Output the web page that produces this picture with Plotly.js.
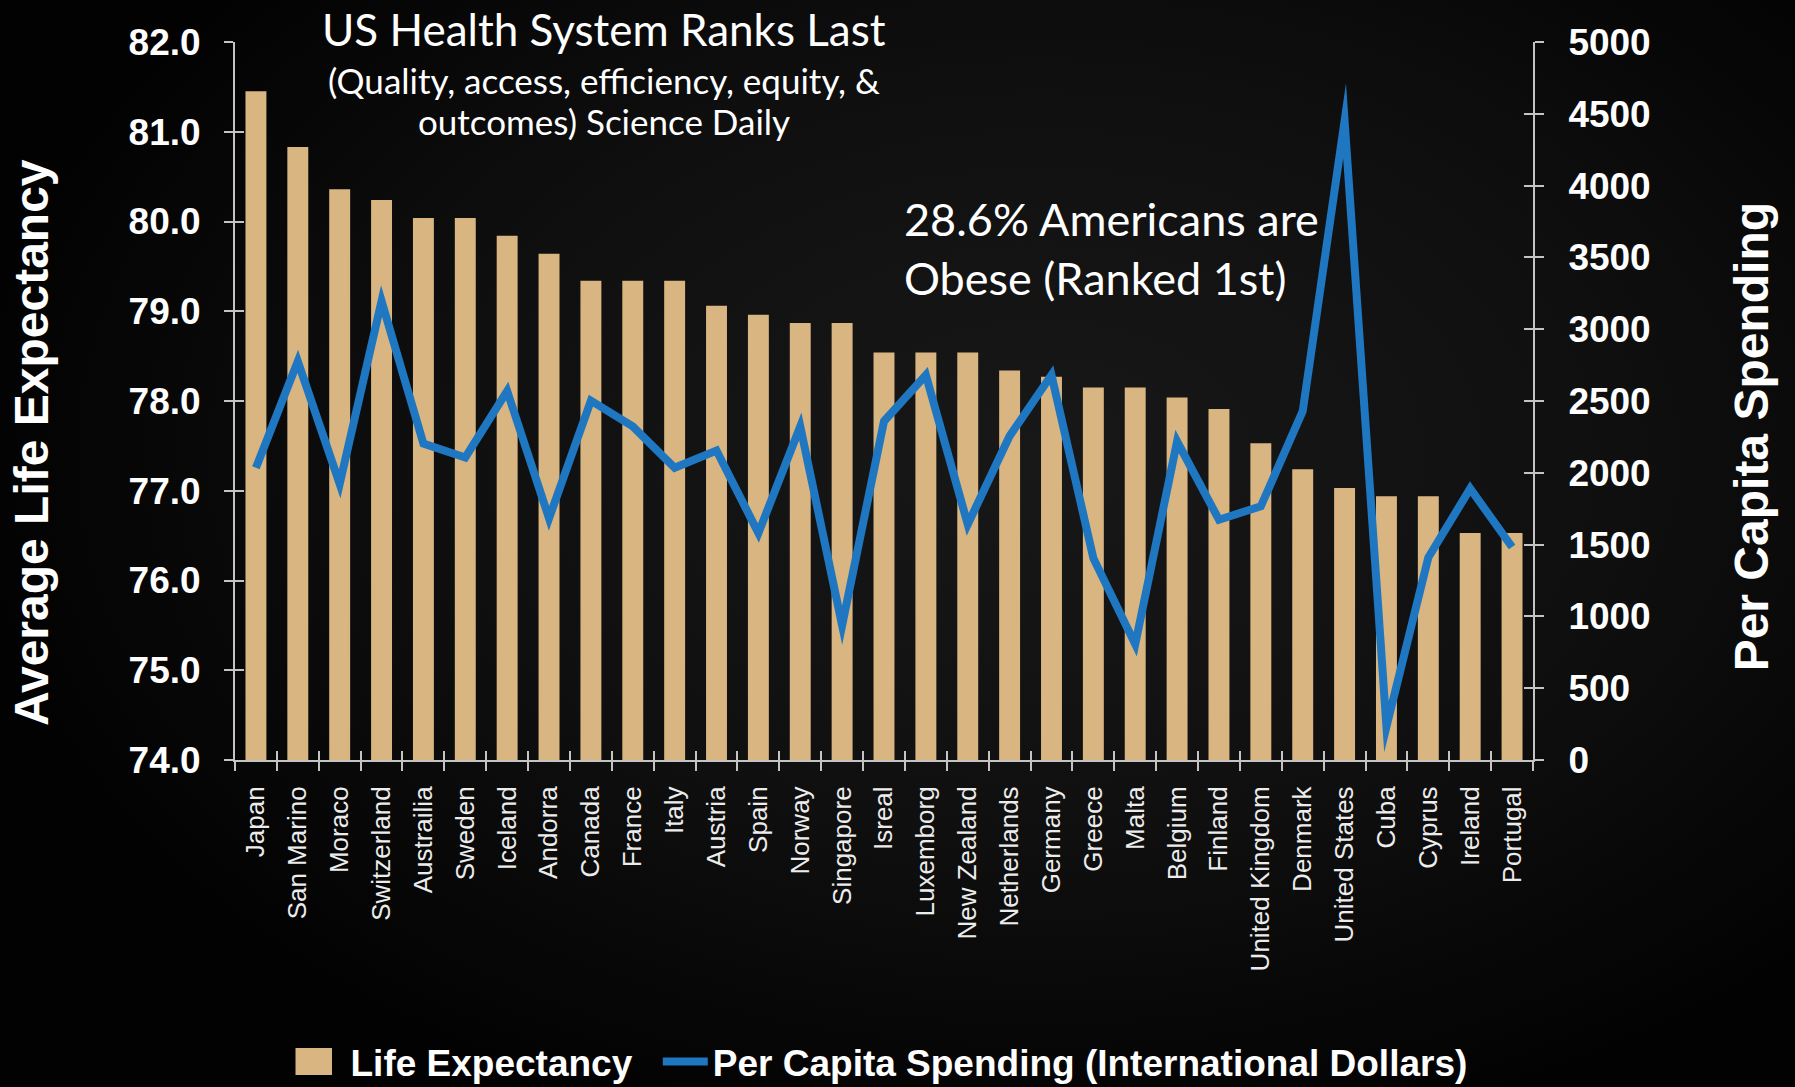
<!DOCTYPE html>
<html>
<head>
<meta charset="utf-8">
<script src="https://cdn.plot.ly/plotly-3.0.1.min.js"></script>
<style>
  html, body { margin: 0; padding: 0; background: #000; }
  #chart { width: 1795px; height: 1087px;
    background: radial-gradient(ellipse 60% 65% at 58% 42%, #181818 0%, #0f0f0f 55%, #020202 100%); }
  #chart path.js-line { stroke-linejoin: miter !important; stroke-miterlimit: 40 !important; }
  #chart .legendpoints path[d="M6,6H-6V-6H6Z"],
  #chart .legendpoints path.legendbar { d: path("M9,13.5H-29V-13.5H9Z") !important; }
</style>
</head>
<body>
<div id="chart"></div>
<script>
const countries = ["Japan","San Marino","Moraco","Switzerland","Austrailia","Sweden","Iceland","Andorra","Canada","France","Italy","Austria","Spain","Norway","Singapore","Isreal","Luxemborg","New Zealand","Netherlands","Germany","Greece","Malta","Belgium","Finland","United Kingdom","Denmark","United States","Cuba","Cyprus","Ireland","Portugal"];
const lifeExpectancy = [81.45,80.83,80.36,80.24,80.04,80.04,79.84,79.64,79.34,79.34,79.34,79.06,78.96,78.87,78.87,78.54,78.54,78.54,78.34,78.27,78.15,78.15,78.04,77.91,77.53,77.24,77.03,76.94,76.94,76.53,76.53];
const perCapitaSpending = [2035,2776,1923,3196,2203,2107,2570,1683,2502,2323,2035,2155,1580,2323,938,2359,2680,1641,2256,2681,1405,806,2218,1673,1767,2429,4450,232,1410,1890,1483];
const lifeTicks = [74,75,76,77,78,79,80,81,82];
const spendTicks = [0,500,1000,1500,2000,2500,3000,3500,4000,4500,5000];

const barColor = "#D8B581";
const lineColor = "#1E77C0";
const axisGray = "#c4c4c4";
const sans = "Liberation Sans, Arial, Helvetica, sans-serif";
const humanist = "Lato, Open Sans, sans-serif";

const traces = [
  { type: "bar", x: countries, y: lifeExpectancy, name: "Life Expectancy\u00A0\u00A0",
    marker: { color: barColor, line: { width: 0 } }, xaxis: "x", yaxis: "y", hoverinfo: "x+y" },
  { type: "scatter", mode: "lines", x: countries, y: perCapitaSpending,
    name: "Per Capita Spending (International Dollars)",
    line: { color: lineColor, width: 8 }, xaxis: "x2", yaxis: "y2" },
  // invisible helpers so the inner halves of the crossing tick marks are drawn
  { type: "scatter", mode: "lines", x: countries, y: lifeExpectancy, opacity: 0,
    showlegend: false, hoverinfo: "skip", xaxis: "x", yaxis: "y3" },
  { type: "scatter", mode: "lines", x: countries, y: perCapitaSpending, opacity: 0,
    showlegend: false, hoverinfo: "skip", xaxis: "x2", yaxis: "y4" }
];

const tickCommon = { tickcolor: axisGray, tickwidth: 2, ticklen: 9 };

const layout = {
  width: 1795, height: 1087,
  paper_bgcolor: "rgba(0,0,0,0)", plot_bgcolor: "rgba(0,0,0,0)",
  margin: { l: 235, r: 262, t: 42, b: 327, autoexpand: false },
  bargap: 0.5,
  showlegend: true,
  xaxis: Object.assign({}, tickCommon, {
    type: "category", categoryorder: "array", categoryarray: countries,
    ticks: "outside", tickson: "boundaries", tickangle: -90,
    ticklabelstandoff: 14,
    tickfont: { family: sans, size: 26, color: "#ececec" },
    showline: true, linecolor: axisGray, linewidth: 2, showgrid: false, zeroline: false,
    anchor: "y", automargin: false
  }),
  xaxis2: Object.assign({}, tickCommon, {
    type: "category", categoryorder: "array", categoryarray: countries,
    overlaying: "x", matches: "x", anchor: "y", side: "bottom",
    ticks: "inside", tickson: "boundaries", showticklabels: false,
    showline: false, showgrid: false, zeroline: false
  }),
  yaxis: Object.assign({}, tickCommon, {
    range: [74, 82], tickvals: lifeTicks, tickformat: ".1f",
    ticks: "outside", ticklabelstandoff: 16,
    tickfont: { family: sans, size: 37, weight: "bold", color: "#ffffff" },
    showline: true, linecolor: axisGray, linewidth: 2, showgrid: false, zeroline: false,
    anchor: "x", automargin: false
  }),
  yaxis2: Object.assign({}, tickCommon, {
    range: [0, 5000], tickvals: spendTicks, overlaying: "y", side: "right", anchor: "x2",
    ticks: "outside", ticklabelstandoff: 17,
    tickfont: { family: sans, size: 37, weight: "bold", color: "#ffffff" },
    showline: true, linecolor: axisGray, linewidth: 2, showgrid: false, zeroline: false,
    automargin: false
  }),
  yaxis3: Object.assign({}, tickCommon, {
    range: [74, 82], tickvals: lifeTicks, overlaying: "y", side: "left", anchor: "x",
    ticks: "inside", showticklabels: false, showline: false, showgrid: false, zeroline: false
  }),
  yaxis4: Object.assign({}, tickCommon, {
    range: [0, 5000], tickvals: spendTicks, overlaying: "y", side: "right", anchor: "x2",
    ticks: "inside", showticklabels: false, showline: false, showgrid: false, zeroline: false
  }),
  legend: {
    orientation: "h", x: 0.5, xanchor: "center", y: -0.4206, yanchor: "middle",
    font: { family: sans, size: 37, weight: "bold", color: "#ffffff" },
    bgcolor: "rgba(0,0,0,0)", itemwidth: 45
  },
  annotations: [
    { text: "US Health System Ranks Last", xref: "paper", yref: "paper",
      x: 0.284, y: 1.018, xanchor: "center", yanchor: "middle", showarrow: false,
      font: { family: humanist, size: 44, color: "#ffffff" } },
    { text: "(Quality, access, efficiency, equity, &",
      xref: "paper", yref: "paper", x: 0.284, y: 0.947, xanchor: "center", yanchor: "middle",
      showarrow: false, font: { family: humanist, size: 35, color: "#ffffff" } },
    { text: "outcomes) Science Daily",
      xref: "paper", yref: "paper", x: 0.284, y: 0.890, xanchor: "center", yanchor: "middle",
      showarrow: false, font: { family: humanist, size: 35, color: "#ffffff" } },
    { text: "28.6% Americans are<br>Obese (Ranked 1st)", xref: "paper", yref: "paper",
      x: 0.5139, y: 0.7117, xanchor: "left", yanchor: "middle", align: "left", showarrow: false,
      font: { family: humanist, size: 45, color: "#ffffff" } },
    { text: "Average Life Expectancy", xref: "paper", yref: "paper",
      x: -0.1564, y: 0.443, xanchor: "center", yanchor: "middle", textangle: -90, showarrow: false,
      font: { family: sans, size: 48, weight: "bold", color: "#ffffff" } },
    { text: "Per Capita Spending", xref: "paper", yref: "paper",
      x: 1.1683, y: 0.45, xanchor: "center", yanchor: "middle", textangle: -90, showarrow: false,
      font: { family: sans, size: 48, weight: "bold", color: "#ffffff" } }
  ]
};

Plotly.newPlot("chart", traces, layout, { displayModeBar: false, staticPlot: true });
</script>
</body>
</html>
